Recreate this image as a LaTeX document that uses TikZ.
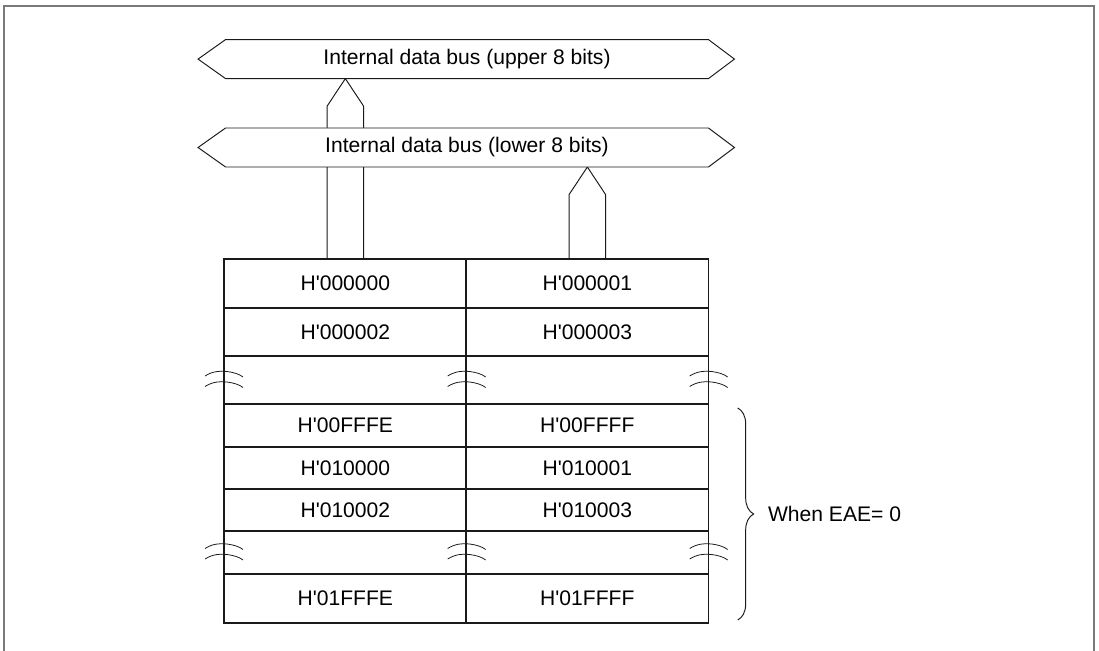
\documentclass[tikz,border=0pt]{standalone}
\usepackage{fontspec}
\setmainfont{Liberation Sans}
\usepackage{tikz}
\usetikzlibrary{positioning,calc,backgrounds,decorations.pathreplacing}
\definecolor{ink}{HTML}{1A1A1A}
\definecolor{framegray}{HTML}{7A7A7A}
\newcommand{\memaddr}[1]{H\textquotesingle#1}
\tikzset{
  memcell/.style={draw=ink,line width=0.75pt,inner sep=0pt,outer sep=0pt,
                  minimum width=4.854cm,font=\fontsize{12}{14}\selectfont},
  busnode/.style={inner sep=0pt,outer sep=0pt,minimum width=9.66cm,
                  minimum height=0.78cm,font=\fontsize{12}{14}\selectfont},
  busbody/.style={draw=ink,fill=white,line width=0.55pt},
  stemline/.style={draw=ink,line width=0.55pt},
  breakmark/.style={draw=ink,line width=0.45pt},
  rangebrace/.style={decorate,decoration={brace,amplitude=0.32cm},line width=0.55pt,draw=ink},
  notetext/.style={font=\fontsize{12}{14}\selectfont,inner sep=0pt},
  breakpair/.pic={
    \draw[breakmark] (-19,-4) .. controls (-12,-8.5) and (-4,-9.5) .. (3,-8.5)
      .. controls (10,-7.5) and (15,-6) .. (19,-3);
    \draw[breakmark] (-19,6.5) .. controls (-12,2) and (-4,1) .. (3,2)
      .. controls (10,3) and (15,4.5) .. (19,7.5);
  }
}

\begin{document}
\begin{tikzpicture}[x=0.02cm,y=-0.02cm]
  \useasboundingbox (0,0) rectangle (1099,651);
  % outer frame, open at the bottom
  \draw[framegray,line width=1pt] (4,651) -- (4,6) -- (1094,6) -- (1094,651);

  % memory map, two bytes per row
  \foreach \r/\y/\h/\a/\b in {1/283.5/49/\memaddr{000000}/\memaddr{000001},
                              2/332/48/\memaddr{000002}/\memaddr{000003},
                              b1/380/48/{}/{},
                              3/425.5/43/\memaddr{00FFFE}/\memaddr{00FFFF},
                              4/468/42.5/\memaddr{010000}/\memaddr{010001},
                              5/510/42/\memaddr{010002}/\memaddr{010003},
                              b2/552.5/43/{}/{},
                              6/598.5/49/\memaddr{01FFFE}/\memaddr{01FFFF}} {
    \node[memcell,minimum height=\h*0.02cm] (l\r) at (345.35,\y) {\a};
    \node[memcell,minimum height=\h*0.02cm] (r\r) at (587.35,\y) {\b};
  }

  % omitted address ranges
  \foreach \p in {lb1.west,lb1.east,rb1.east,lb2.west,lb2.east,rb2.east} {
    \pic at (\p) {breakpair};
  }

  % the two byte lanes of the internal bus
  \node[busnode] (upbus) at (467,59.1) {Internal data bus (upper 8 bits)};
  \node[busnode] (lowbus) at (467,147.5) {Internal data bus (lower 8 bits)};

  \begin{scope}[on background layer]
    \draw[stemline] ($(l1.north)+(-18.2,0)$) -- ($(l1.north |- upbus.south)+(-18.2,27.5)$)
      -- (l1.north |- upbus.south) -- ($(l1.north |- upbus.south)+(18.2,27.5)$)
      -- ($(l1.north)+(18.2,0)$);
    \draw[stemline] ($(r1.north)+(-18.2,0)$) -- ($(r1.north |- lowbus.south)+(-18.2,27.5)$)
      -- (r1.north |- lowbus.south) -- ($(r1.north |- lowbus.south)+(18.2,27.5)$)
      -- ($(r1.north)+(18.2,0)$);
    \foreach \bus in {upbus,lowbus} {
      \draw[busbody] (\bus.north west) -- (\bus.north east) -- ($(\bus.east)+(26,0)$)
        -- (\bus.south east) -- (\bus.south west) -- ($(\bus.west)+(-27.5,0)$) -- cycle;
    }
  \end{scope}

  % 64 kbyte range
  \coordinate (bracetop) at ($(r3.north east)+(29,4)$);
  \coordinate (bracebot) at ($(r6.south east)+(29,-3)$);
  \draw[rangebrace] (bracetop) -- (bracebot);
  \node[notetext,anchor=west] (eae) at ($(bracetop)!0.5!(bracebot)+(30,0)$) {When EAE= 0};
\end{tikzpicture}
\end{document}
